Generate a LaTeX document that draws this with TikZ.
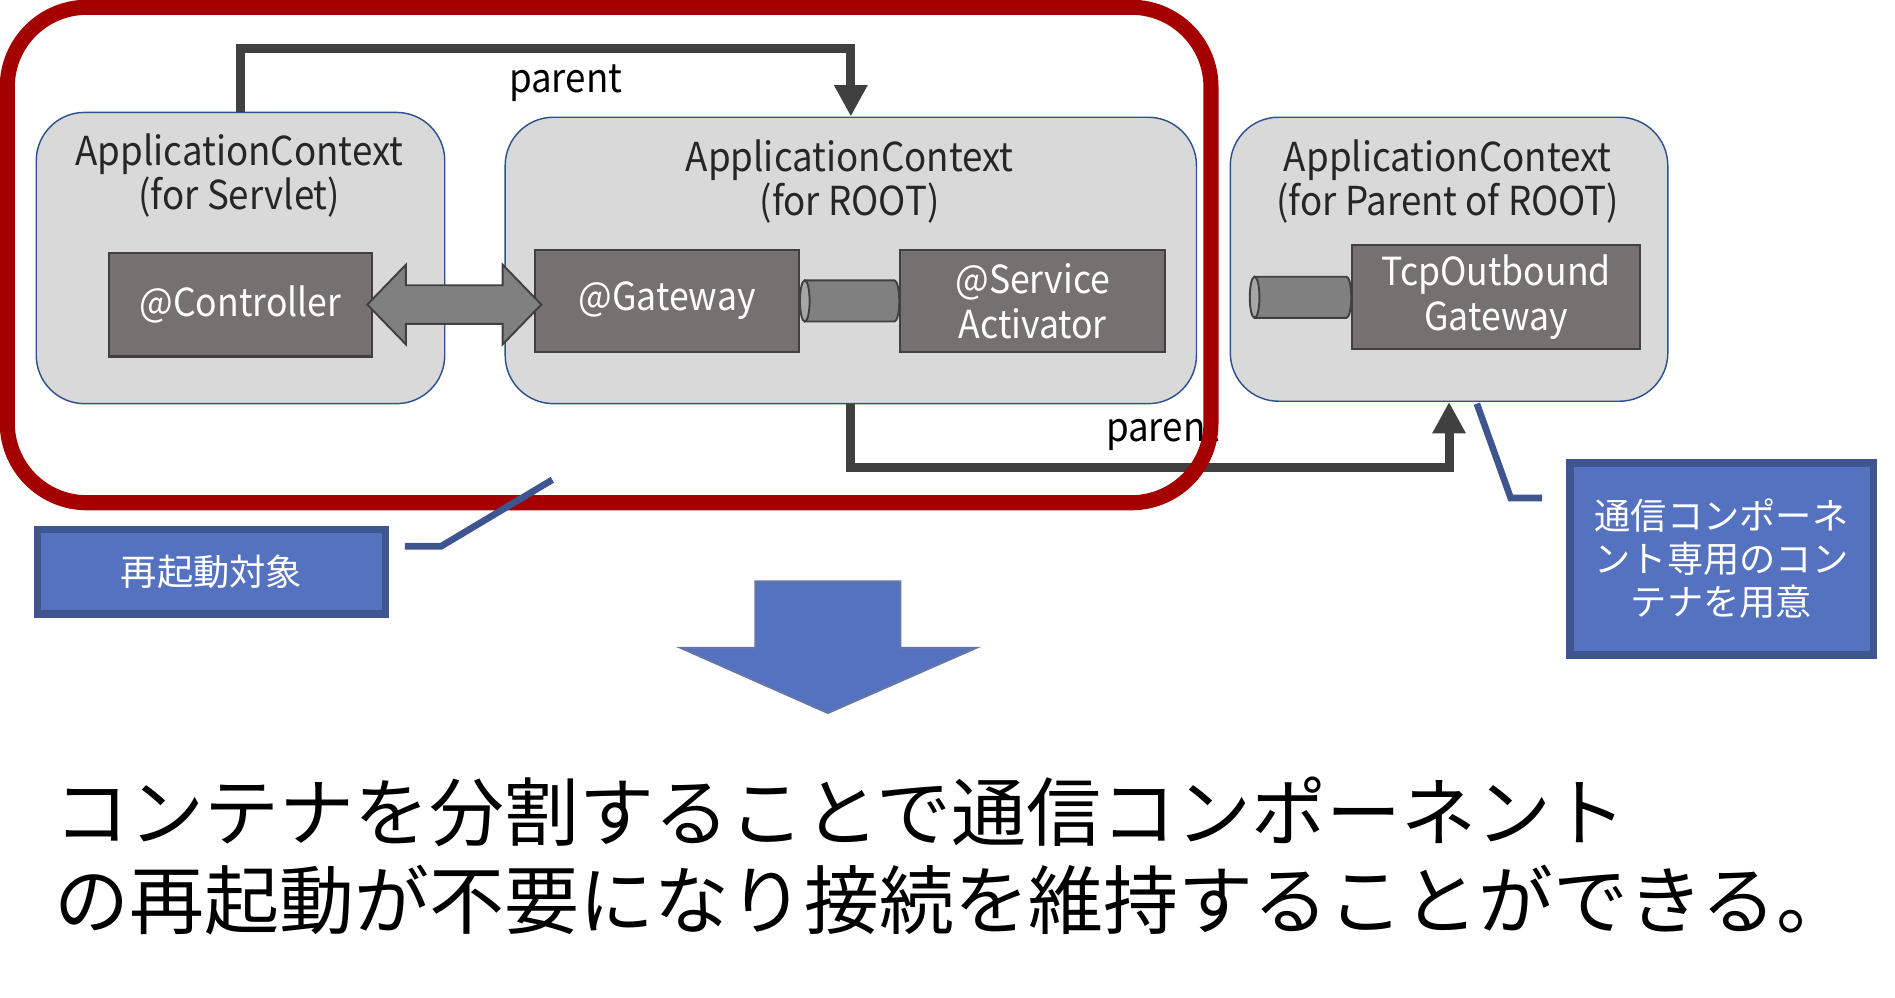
\documentclass[tikz,border=0pt]{standalone}
\usepackage{fontspec}
\setmainfont{Noto Sans CJK JP}
\newfontfamily\rsnarrow[FakeStretch=0.92]{Noto Sans CJK JP}
\usetikzlibrary{arrows.meta,positioning,calc}
\definecolor{rsred}      {HTML}{A50000}
\definecolor{rsink}      {HTML}{404040}
\definecolor{rsctx}      {HTML}{D9D9D9}
\definecolor{rsctxline}  {HTML}{2F528F}
\definecolor{rscomp}     {HTML}{767171}
\definecolor{rspipe}     {HTML}{808080}
\definecolor{rspipeend}  {HTML}{A6A6A6}
\definecolor{rsblue}     {HTML}{5572C0}
\definecolor{rsblueline} {HTML}{3F5590}
\tikzset{
  rsctxbox/.style={draw=rsctxline, fill=rsctx, line width=0.6pt, rounded corners=20pt,
                   inner sep=0pt},
  rscompbox/.style={draw=rsink, fill=rscomp, line width=0.9pt, inner sep=0pt, text=white,
                    align=center, font=\rsnarrow\fontsize{16pt}{18.5pt}\selectfont},
  rstitle/.style={font=\rsnarrow\fontsize{16.5pt}{17pt}\selectfont, text=black!85,
                  align=center, inner sep=0pt},
  rslabel/.style={font=\rsnarrow\fontsize{16.5pt}{18pt}\selectfont, text=black, inner sep=0pt},
  rsparent/.style={-{Triangle[length=13pt,width=13pt]}, draw=rsink, line width=3.75pt},
  rspipebody/.style={draw=rsink, line width=0.8pt, fill=rspipe},
  rspipecap/.style={draw=rsink, line width=0.8pt, fill=rspipeend},
  rscallout/.style={draw=rsblueline, fill=rsblue, line width=3pt, inner sep=0pt, text=white,
                    align=center, font=\fontsize{15pt}{17.75pt}\selectfont},
  rscalloutline/.style={draw=rsblueline, line width=2.75pt},
}

\begin{document}
\begin{tikzpicture}[x=0.5pt,y=-0.5pt]
  \useasboundingbox (0,0) rectangle (1568,825);
  % contexts
  \node[rsctxbox, minimum width=169pt, minimum height=120.5pt] (servlet) at (199,213.5) {};
  \node[rsctxbox, minimum width=286pt, minimum height=118.5pt] (root) at (704,215.5) {};
  \node[rsctxbox, minimum width=181pt, minimum height=117.5pt] (por) at (1199,214.5) {};
  \node[rstitle] (servlettitle) at (198,145) {ApplicationContext\\(for Servlet)};
  \node[rstitle] (roottitle) at (703,150.5) {ApplicationContext\\(for ROOT)};
  \node[rstitle] (portitle) at (1198,150.5) {ApplicationContext\\(for Parent of ROOT)};
  % components
  \node[rscompbox, minimum width=109pt, minimum height=43pt] (ctrl) at (199,252) {@Controller};
  \node[rscompbox, minimum width=109pt, minimum height=42pt] (gw) at (552,249) {@Gateway};
  \node[rscompbox, minimum width=109.5pt, minimum height=42pt] (svc) at (854.5,249)
    {@Service\\Activator};
  \node[rscompbox, minimum width=119pt, minimum height=43pt] (tcp) at (1238,246)
    {TcpOutbound\\Gateway};
  % channels
  \filldraw[rspipebody] ($(gw.east)+(4,-17)$) -- ($(svc.west)+(-4,-17)$)
    arc[start angle=-90, end angle=90, x radius=4, y radius=17] -- ($(gw.east)+(4,17)$) -- cycle;
  \filldraw[rspipecap] ($(gw.east)+(4,0)$) ellipse [x radius=4, y radius=17];
  \filldraw[rspipebody] ($(tcp.west)+(-80,-17)$) -- ($(tcp.west)+(-4,-17)$)
    arc[start angle=-90, end angle=90, x radius=4, y radius=17] -- ($(tcp.west)+(-80,17)$) -- cycle;
  \filldraw[rspipecap] ($(tcp.west)+(-80,0)$) ellipse [x radius=4, y radius=17];
  % block arrow between controller and gateway
  \filldraw[draw=rsink, fill=rspipe, line width=0.8pt] ($(ctrl.east)+(-5,0)$)
    -- ++(32,-33) -- ++(0,17) -- ++(80,0) -- ++(0,-17) -- ++(32,33)
    -- ++(-32,33) -- ++(0,-17) -- ++(-80,0) -- ++(0,17) -- cycle;
  % parent links
  \coordinate (rstopbend) at (0,40);
  \coordinate (rsbotbend) at (0,387);
  \draw[rsparent] (servlet.north) -- (servlet.north |- rstopbend) -| (root.north);
  \draw[rsparent] (root.south) -- (root.south |- rsbotbend) -| (por.south);
  \node[rslabel] (parenttop) at (468,69) {parent};
  \node[rslabel] (parentbot) at (962,358) {parent};
  % restart zone
  \node[draw=rsred, line width=6.25pt, rounded corners=33pt, minimum width=498pt,
        minimum height=205pt, inner sep=0pt] (zone) at (504,211) {};
  % callouts
  \node[rscallout, minimum width=144pt, minimum height=35pt] (restart) at (175,473) {再起動対象};
  \draw[rscalloutline] ($(restart.north east)+(13,17)$) -- ++(30,0) -- ++(92,-55);
  \node[rscallout, minimum width=125.5pt, minimum height=79.5pt] (comm) at (1424.5,462.5)
    {通信コンポーネ\\ント専用のコン\\テナを用意};
  \draw[rscalloutline] ($(comm.north west)+(-20,32)$) -- ++(-26,0) -- ++(-28,-78);
  % result arrow
  \filldraw[draw=rsblueline!80, fill=rsblue, line width=0.8pt] (625,481) -- (745,481)
    -- (745,536) -- (808,536) -- (685,590) -- (563,536) -- (625,536) -- cycle;
  \node[anchor=west, align=left, inner sep=0pt, font=\fontsize{31pt}{36.5pt}\selectfont]
    (summary) at (45,708)
    {コンテナを分割することで通信コンポーネント\\の再起動が不要になり接続を維持することができる。};
\end{tikzpicture}
\end{document}
